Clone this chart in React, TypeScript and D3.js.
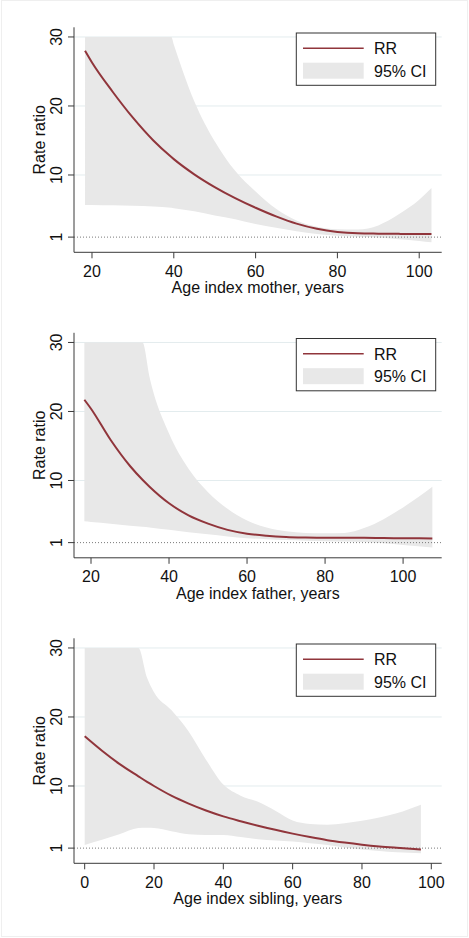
import React from 'react';
import * as d3 from 'd3';

// ---------- data ----------
const motherAge = [18.3, 20, 25, 30, 35, 39.4, 40, 45, 50, 55, 60, 65, 70, 75, 80, 85, 90, 95, 100, 103];
const motherRR = [28.0, 26.3, 22.1, 18.3, 15.0, 12.6, 12.3, 10.1, 8.25, 6.65, 5.25, 4.0, 2.95, 2.2, 1.75, 1.55, 1.5, 1.47, 1.45, 1.45];
const motherLo = [5.65, 5.65, 5.6, 5.55, 5.45, 5.25, 5.2, 4.75, 4.15, 3.6, 2.9, 2.35, 1.85, 1.45, 1.2, 1.05, 0.95, 0.7, 0.45, 0.25];
const motherHi = [30, 30, 30, 30, 30, 30, 28.9, 20.7, 14.9, 10.6, 7.6, 5.1, 3.4, 2.5, 2.15, 2.1, 2.7, 4.3, 6.4, 8.1];

const fatherAge = [18.3, 20, 25, 30, 33.2, 35, 40, 45, 50, 55, 60, 65, 70, 75, 80, 85, 90, 95, 100, 107.5];
const fatherRR = [21.7, 20.4, 15.9, 12.1, 10.1, 9.1, 6.7, 4.95, 3.75, 2.85, 2.3, 2.0, 1.82, 1.74, 1.7, 1.7, 1.7, 1.66, 1.64, 1.6];
const fatherLo = [4.1, 4.0, 3.75, 3.45, 3.3, 3.2, 2.85, 2.5, 2.2, 1.9, 1.65, 1.5, 1.38, 1.28, 1.2, 1.15, 1.1, 0.9, 0.65, 0.3];
const fatherHi = [30, 30, 30, 30, 30, 25.0, 16.8, 11.7, 8.3, 5.9, 4.2, 3.2, 2.65, 2.4, 2.35, 2.4, 3.1, 4.4, 6.1, 9.1];

const siblingAge = [0, 5, 10, 15.5, 18, 20, 25, 30, 35, 40, 45, 50, 55, 60, 65, 70, 75, 80, 85, 90, 97];
const siblingRR = [17.2, 15.1, 13.2, 11.4, 10.6, 10.0, 8.6, 7.45, 6.45, 5.6, 4.9, 4.25, 3.65, 3.1, 2.6, 2.15, 1.8, 1.5, 1.25, 1.05, 0.8];
const siblingLo = [1.45, 2.2, 3.0, 3.9, 3.95, 3.9, 3.45, 3.0, 2.9, 2.9, 2.6, 2.3, 2.1, 1.95, 1.7, 1.45, 1.1, 0.8, 0.6, 0.4, 0.25];
const siblingHi = [30, 30, 30, 30, 25.7, 23.6, 21.0, 17.9, 13.8, 10.2, 8.6, 7.7, 6.4, 5.0, 4.5, 4.4, 4.6, 4.95, 5.45, 6.05, 7.3];

const yTicks = [1, 10, 20, 30];
const gridTicks = [10, 20, 30];
const parentXTicks = [20, 40, 60, 80, 100];
const siblingXTicks = [0, 20, 40, 60, 80, 100];

const motherTitle = 'Age index mother, years';
const fatherTitle = 'Age index father, years';
const siblingTitle = 'Age index sibling, years';
const yTitle = 'Rate ratio';
const legendLabels = ['RR', '95% CI'];

// ---------- layout ----------
const W = 469;
const H = 938;
const LEFT = 74;
const RIGHT = 441.7;
const TOP = 27.3;
const BOTTOM = 252.3;
const PANEL_SHIFT = 305.5;
const Y_DOMAIN: [number, number] = [-1.2, 31.4];

const LINE_COLOR = '#90353b';
const CI_COLOR = '#e8e8e8';
const GRID_COLOR = '#e3ecee';
const AXIS_COLOR = '#3a3a3a';
const FONT = '"Liberation Sans", Arial, Helvetica, sans-serif';

type PanelProps = {
  ages: number[];
  rr: number[];
  lo: number[];
  hi: number[];
  xDomain: [number, number];
  xTicks: number[];
  title: string;
  dy: number;
};

function Panel({ ages, rr, lo, hi, xDomain, xTicks, title, dy }: PanelProps) {
  const x = d3.scaleLinear().domain(xDomain).range([LEFT, RIGHT]);
  const y = d3.scaleLinear().domain(Y_DOMAIN).range([BOTTOM, TOP]);
  const rows = ages.map((a, i) => ({ a, r: rr[i], l: lo[i], h: hi[i] }));

  const area = d3
    .area<any>()
    .x((d) => x(d.a))
    .y0((d) => y(d.l))
    .y1((d) => y(d.h))
    .curve(d3.curveMonotoneX);
  const line = d3
    .line<any>()
    .x((d) => x(d.a))
    .y((d) => y(d.r))
    .curve(d3.curveMonotoneX);

  const midY = (TOP + BOTTOM) / 2;
  const midX = (LEFT + RIGHT) / 2;

  const lgX = 296.3, lgY = 33, lgW = 139.4, lgH = 52.3;

  return (
    <g transform={`translate(0,${dy})`}>
      {gridTicks.map((t) => (
        <line key={'g' + t} x1={LEFT} x2={RIGHT} y1={y(t)} y2={y(t)} stroke={GRID_COLOR} strokeWidth={1} />
      ))}
      <path d={area(rows) || ''} fill={CI_COLOR} stroke="none" />
      <line x1={LEFT} x2={RIGHT} y1={y(1)} y2={y(1)} stroke="#7a7a7a" strokeWidth={1} strokeDasharray="1 2" />
      <path d={line(rows) || ''} fill="none" stroke={LINE_COLOR} strokeWidth={2} />

      <line x1={LEFT} x2={LEFT} y1={TOP} y2={BOTTOM} stroke={AXIS_COLOR} strokeWidth={1} />
      <line x1={LEFT} x2={RIGHT} y1={BOTTOM} y2={BOTTOM} stroke={AXIS_COLOR} strokeWidth={1} />
      {yTicks.map((t) => (
        <g key={'y' + t}>
          <line x1={LEFT - 6} x2={LEFT} y1={y(t)} y2={y(t)} stroke={AXIS_COLOR} strokeWidth={1} />
          <text
            transform={`translate(62,${y(t)}) rotate(-90)`}
            textAnchor="middle"
            fontFamily={FONT}
            fontSize={16}
            fill="#111"
          >
            {t}
          </text>
        </g>
      ))}
      {xTicks.map((t) => (
        <g key={'x' + t}>
          <line x1={x(t)} x2={x(t)} y1={BOTTOM} y2={BOTTOM + 6} stroke={AXIS_COLOR} strokeWidth={1} />
          <text x={x(t)} y={276.7} textAnchor="middle" fontFamily={FONT} fontSize={16} fill="#111">
            {t}
          </text>
        </g>
      ))}
      <text x={midX} y={293.3} textAnchor="middle" fontFamily={FONT} fontSize={16} fill="#111">
        {title}
      </text>
      <text
        transform={`translate(45,${midY}) rotate(-90)`}
        textAnchor="middle"
        fontFamily={FONT}
        fontSize={16}
        fill="#111"
      >
        {yTitle}
      </text>

      <rect x={lgX} y={lgY} width={lgW} height={lgH} fill="#fff" stroke="#333" strokeWidth={1} />
      <line x1={303} x2={363.7} y1={48.3} y2={48.3} stroke={LINE_COLOR} strokeWidth={1.6} />
      <rect x={303} y={62.7} width={60.7} height={16} fill={CI_COLOR} />
      <text x={374} y={54} fontFamily={FONT} fontSize={16} fill="#111">
        {legendLabels[0]}
      </text>
      <text x={374} y={76.7} fontFamily={FONT} fontSize={16} fill="#111">
        {legendLabels[1]}
      </text>
    </g>
  );
}

export default function App() {
  return (
    <svg
      width={W}
      height={H}
      viewBox={`0 0 ${W} ${H}`}
      style={{ position: 'absolute', left: 0, top: 0, background: '#fff' }}
    >
      <rect x={0} y={0} width={W} height={H} fill="#fff" />
      <Panel
        ages={motherAge}
        rr={motherRR}
        lo={motherLo}
        hi={motherHi}
        xDomain={[15.6, 105.5]}
        xTicks={parentXTicks}
        title={motherTitle}
        dy={0}
      />
      <Panel
        ages={fatherAge}
        rr={fatherRR}
        lo={fatherLo}
        hi={fatherHi}
        xDomain={[15.64, 109.9]}
        xTicks={parentXTicks}
        title={fatherTitle}
        dy={PANEL_SHIFT}
      />
      <Panel
        ages={siblingAge}
        rr={siblingRR}
        lo={siblingLo}
        hi={siblingHi}
        xDomain={[-3.08, 103.0]}
        xTicks={siblingXTicks}
        title={siblingTitle}
        dy={PANEL_SHIFT * 2}
      />
      <rect x={1.5} y={0.5} width={466} height={936} fill="none" stroke="#efefef" strokeWidth={1} />
    </svg>
  );
}
